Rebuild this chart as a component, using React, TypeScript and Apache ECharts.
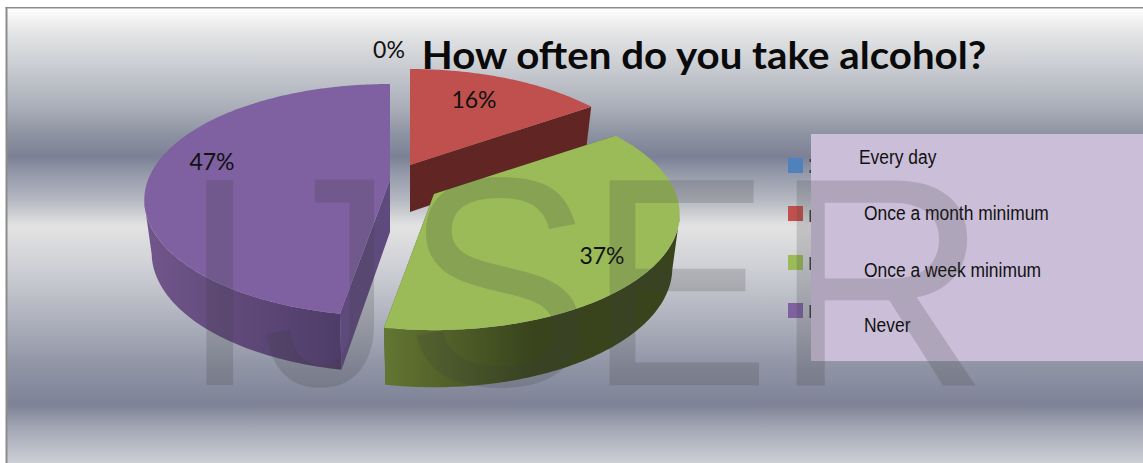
import React, { useEffect, useRef } from "react";
import * as echarts from "echarts";

// Survey answers and their shares, in percent.
const categories = ["Every day", "Once a month minimum", "Once a week minimum", "Never"];
const shares = [0, 16, 37, 47];
const title = "How often do you take alcohol?";
const watermarkLetters = ["I", "J", "S", "E", "R"];

const W = 1143;
const H = 463;

// Projection of the tilted pie: far side compressed, near side enlarged.
const RX = 242;
const RY = 112.6;
const TILT = 0.173;
const SKEW = (2.5 * Math.PI) / 180;
const BASE_RX = 0.97;
const BASE_RY = 1.03;

// Per-slice look: exploded pivot, wall depth, label offset from the pivot and fills.
const sliceStyles = [
  { pivot: [396, 170], depth: 52, label: [-7, -121], top: "#4f81bd", cut: "#2f4d71", wall: ["#4f81bd", "#2f4d71"], darkAt: 1 },
  { pivot: [410, 165], depth: 47, label: [64, -66], top: "#c0504d", cut: "#612624", wall: ["#7a302e", "#612624"], darkAt: 1 },
  { pivot: [434, 194], depth: 53, label: [168, 61], top: "#9bbb59", cut: "#4d5e2c", wall: ["#637632", "#39441d"], darkAt: 0.5 },
  { pivot: [390, 180], depth: 52, label: [-178, -19], top: "#7f60a0", cut: "#5f4a7e", wall: ["#71568b", "#4e3c68"], darkAt: 1 },
];

const legendYs = [158, 206, 255, 303];
const panelTextPos = [
  [859, 157],
  [864, 213],
  [864, 270],
  [864, 325],
];
const watermarkPos = [
  [180, 0.96],
  [262, 0.883],
  [404, 0.95],
  [587, 0.925],
  [772, 1.01],
];
// Ends of the legend labels that stick out beyond the lilac panel.
const labelStubs = [
  [809.5, 159, 1.5, 3],
  [809.5, 170, 1.5, 3],
  [809.5, 210, 1.5, 12],
  [809.5, 257, 1.5, 13],
  [809.5, 305, 1.5, 13],
];

const bgStops: [number, string][] = [
  [8, "#ffffff"],
  [22, "#f0f0f0"],
  [35, "#e2e3e4"],
  [67, "#c9ccd1"],
  [110, "#a8acb7"],
  [133, "#8f94a3"],
  [157, "#7b8095"],
  [173, "#9499a9"],
  [200, "#b5b8c2"],
  [226, "#e3e3e3"],
  [267, "#cfd0d6"],
  [317, "#b0b3be"],
  [367, "#8f94a5"],
  [405, "#7d8296"],
  [427, "#a2a6b3"],
  [463, "#cdcfd5"],
];

function rim(px: number, py: number, theta: number, sx = 1, sy = 1): number[] {
  const t = theta - SKEW * Math.sin(2 * theta);
  const w = 1 + TILT * Math.cos(t);
  return [px + (RX * sx * Math.sin(t)) / w, py - (RY * sy * Math.cos(t)) / w];
}

function arc(px: number, py: number, a: number, b: number, sx = 1, sy = 1): number[][] {
  const n = Math.max(2, Math.ceil(((b - a) * 180) / Math.PI));
  const pts: number[][] = [];
  for (let i = 0; i <= n; i++) pts.push(rim(px, py, a + ((b - a) * i) / n, sx, sy));
  return pts;
}

const renderSlice = (params: any, api: any) => {
  const i = params.dataIndex;
  const before = shares.slice(0, i).reduce((t, v) => t + v, 0);
  const total = shares.reduce((t, v) => t + v, 0);
  const a = (before / total) * Math.PI * 2;
  const b = ((before + api.value(0)) / total) * Math.PI * 2;
  const st = sliceStyles[i];
  const [px, py] = st.pivot;
  const children: any[] = [];

  if (api.value(0) > 0) {
    // Cut faces, then the outer wall where it faces the viewer, then the top.
    for (const t of [a, b]) {
      const top = rim(px, py, t);
      const bot = rim(px, py + st.depth, t, BASE_RX, BASE_RY);
      children.push({
        type: "polygon",
        shape: { points: [[px, py], top, bot, [px, py + st.depth]] },
        style: { fill: st.cut },
      });
    }
    const lo = Math.max(a, (100 * Math.PI) / 180);
    const hi = Math.min(b, (260 * Math.PI) / 180);
    if (hi > lo) {
      const upper = arc(px, py, lo, hi);
      const lower = arc(px, py + st.depth, lo, hi, BASE_RX, BASE_RY).reverse();
      children.push({
        type: "polygon",
        shape: { points: upper.concat(lower) },
        style: {
          fill: new echarts.graphic.LinearGradient(0, 0, 1, 0, [
            { offset: 0, color: st.wall[0] },
            { offset: st.darkAt, color: st.wall[1] },
            { offset: 1, color: st.wall[1] },
          ]),
        },
      });
    }
    children.push({
      type: "polygon",
      shape: { points: [[px, py] as number[]].concat(arc(px, py, a, b)) },
      style: { fill: st.top },
    });
  }

  children.push({
    type: "text",
    z2: 5,
    style: {
      text: `${api.value(0)}%`,
      x: px + st.label[0],
      y: py + st.label[1],
      align: "center",
      verticalAlign: "middle",
      fontFamily: "Lato",
      fontSize: 23,
      fill: "#111111",
    },
  });
  return { type: "group", children };
};

export default function App() {
  const ref = useRef<HTMLDivElement>(null);

  useEffect(() => {
    const chart = echarts.init(ref.current!, undefined, { renderer: "svg" });
    const frameTop = 8;
    const frameLeft = 7;
    const span = H - frameTop;

    const graphic: any[] = [
      {
        type: "rect",
        z: 0,
        silent: true,
        shape: { x: frameLeft, y: frameTop, width: W - frameLeft, height: span },
        style: {
          fill: new echarts.graphic.LinearGradient(
            0,
            0,
            0,
            1,
            bgStops.map(([y, color]) => ({ offset: (y - frameTop) / span, color })),
          ),
        },
      },
      { type: "rect", z: 1, silent: true, shape: { x: 5.5, y: 7, width: 2, height: H - 7 }, style: { fill: "#8c8c8c" } },
      { type: "rect", z: 1, silent: true, shape: { x: 5.5, y: 7, width: W, height: 1.5 }, style: { fill: "#8c8c8c" } },
      {
        type: "text",
        z: 5,
        silent: true,
        x: 704,
        y: 54,
        scaleX: 1.06,
        style: {
          text: title,
          x: 0,
          y: 0,
          align: "center",
          verticalAlign: "middle",
          fontFamily: "Lato",
          fontWeight: "bold",
          fontSize: 38,
          fill: "#0a0a0a",
        },
      },
      ...legendYs.map((y, i) => ({
        type: "rect",
        z: 6,
        silent: true,
        shape: { x: 788, y, width: 15, height: 15 },
        style: { fill: sliceStyles[i].top },
      })),
      ...labelStubs.map(([x, y, width, height]) => ({
        type: "rect",
        z: 6,
        silent: true,
        shape: { x, y, width, height },
        style: { fill: "#3c3c44" },
      })),
      {
        type: "rect",
        z: 8,
        silent: true,
        shape: { x: 811, y: 134, width: W - 811, height: 227 },
        style: { fill: "#cbbed9" },
      },
      ...categories.map((name, i) => ({
        type: "text",
        z: 9,
        silent: true,
        x: panelTextPos[i][0],
        y: panelTextPos[i][1],
        scaleX: 0.83,
        style: {
          text: name,
          x: 0,
          y: 0,
          align: "left",
          verticalAlign: "middle",
          fontFamily: "Liberation Sans",
          fontSize: 21,
          fill: "#111111",
        },
      })),
      ...watermarkLetters.map((letter, i) => ({
        type: "text",
        z: 20,
        silent: true,
        x: watermarkPos[i][0],
        y: 133,
        scaleX: watermarkPos[i][1],
        style: {
          text: letter,
          x: 0,
          y: 0,
          align: "left",
          verticalAlign: "top",
          fontFamily: "Liberation Sans",
          fontSize: 298,
          fill: "rgba(58,58,58,0.19)",
        },
      })),
    ];

    chart.setOption({
      animation: false,
      graphic,
      series: [
        {
          type: "custom",
          coordinateSystem: "none",
          silent: true,
          z: 3,
          renderItem: renderSlice,
          data: shares.map((v) => [v]),
        },
      ],
    });
    return () => chart.dispose();
  }, []);

  return <div ref={ref} style={{ position: "fixed", left: 0, top: 0, width: W, height: H, background: "#fff" }} />;
}
